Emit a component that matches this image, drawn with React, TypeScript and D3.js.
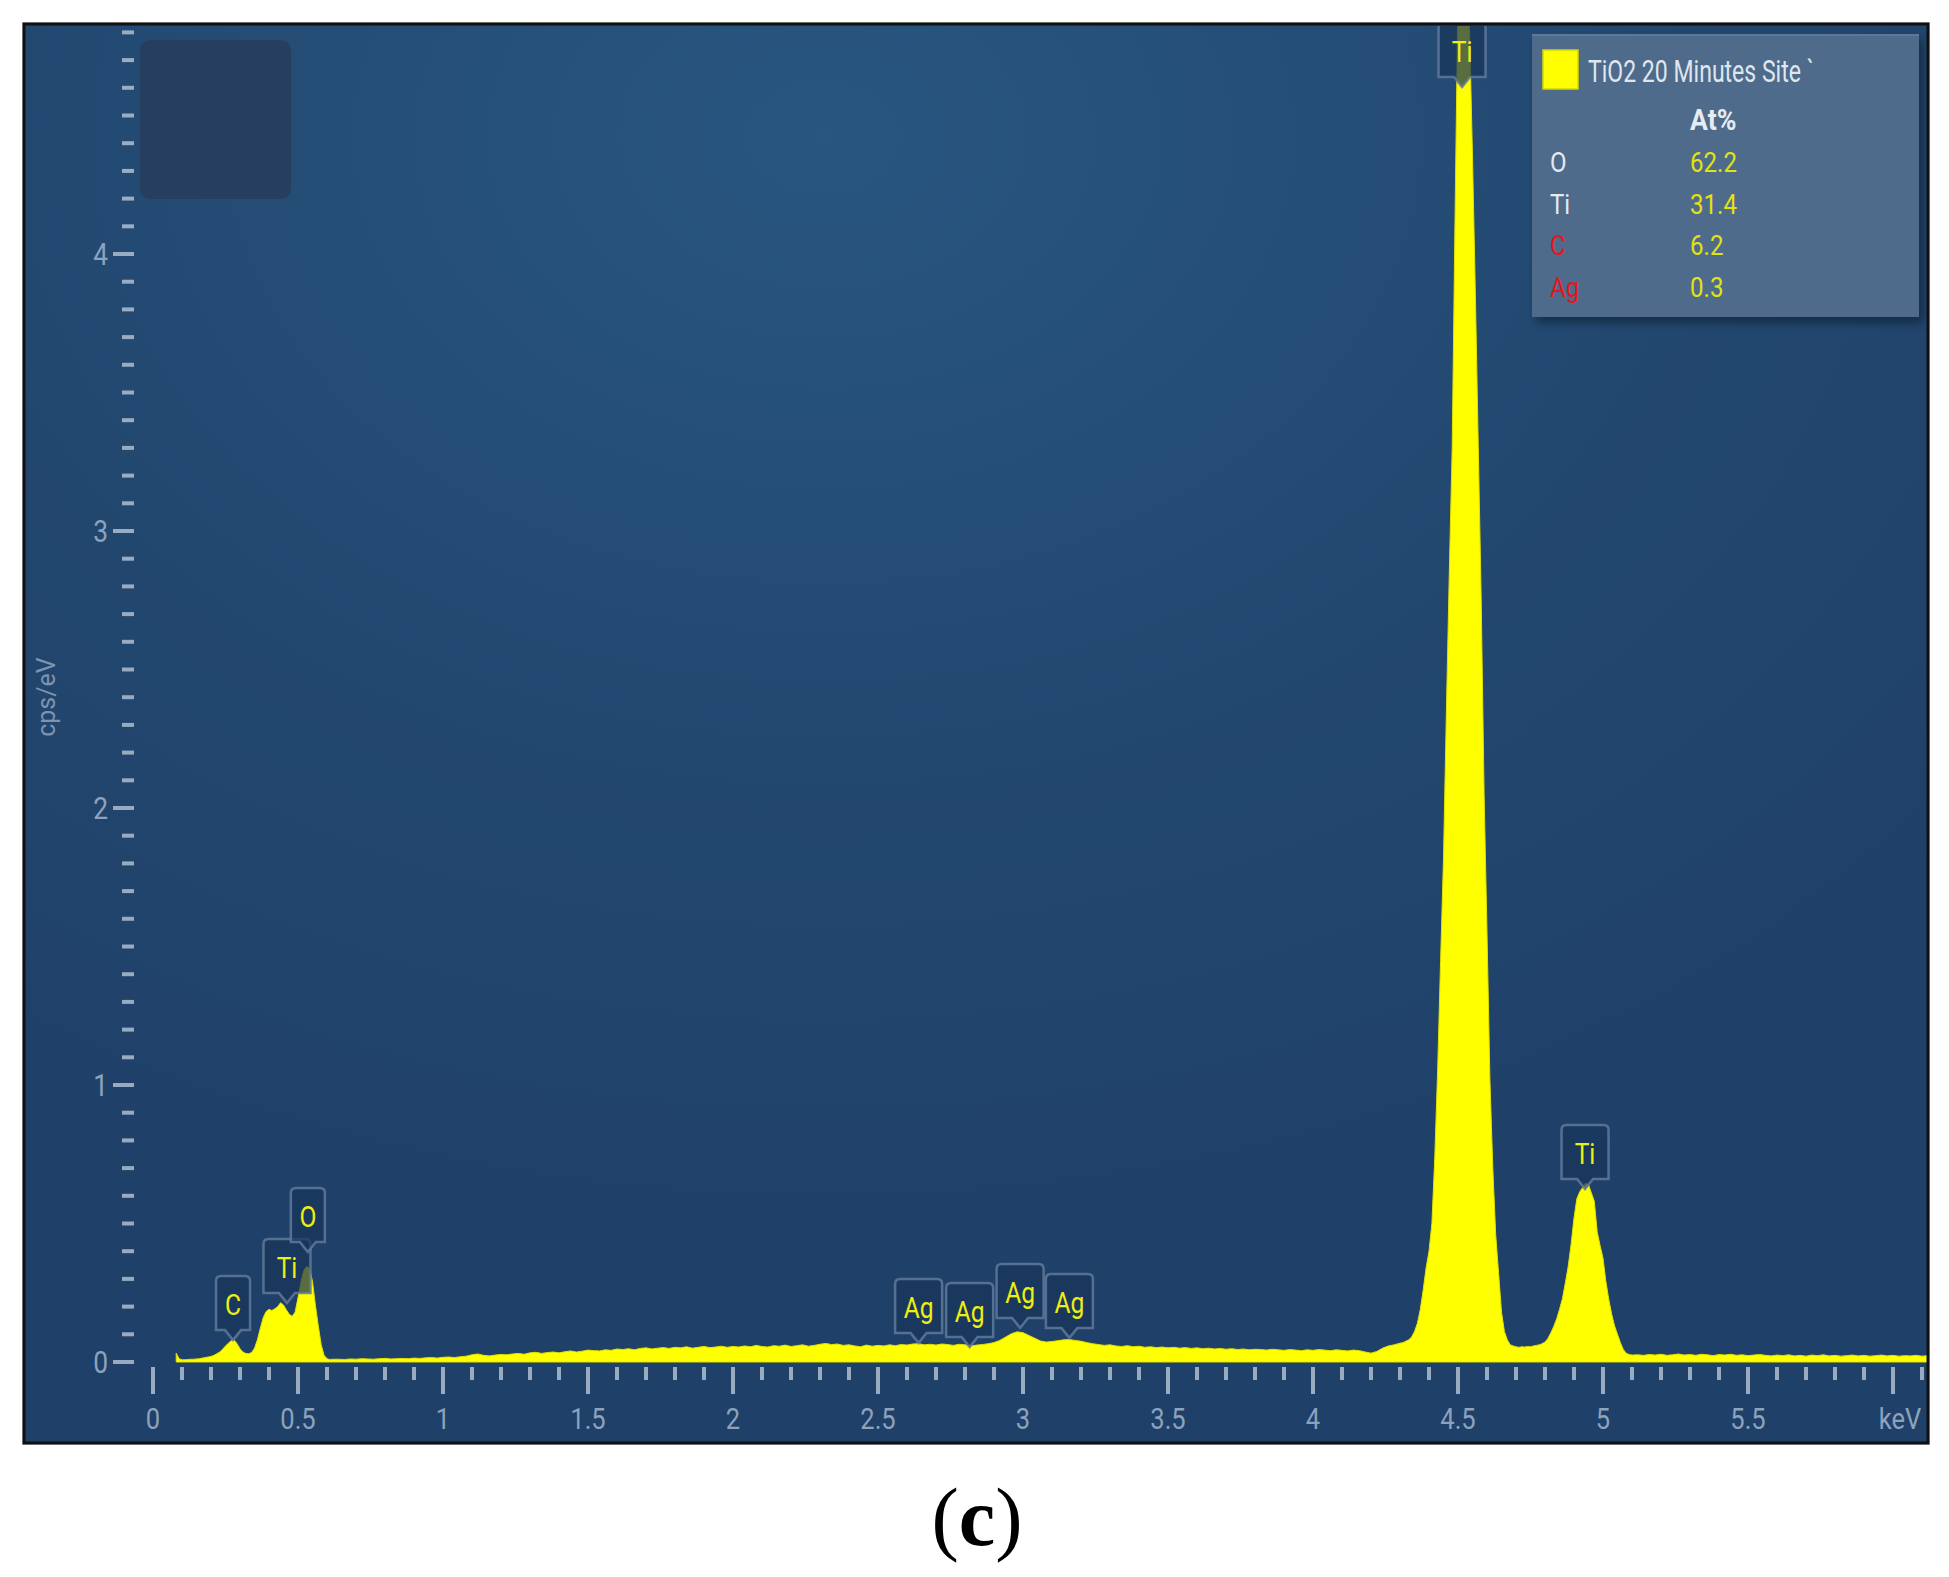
import React from "react";
import * as d3 from "d3";

// ---------- DATA ----------
// EDS spectrum: [energy keV, cps/eV]
const lowEnergy: [number, number][] = [
  [0.08, 0.032], [0.09, 0.012], [0.1, 0.008], [0.11, 0.008], [0.12, 0.009], [0.13, 0.01],
  [0.14, 0.01], [0.15, 0.011], [0.16, 0.012], [0.17, 0.014], [0.18, 0.016], [0.19, 0.018],
  [0.2, 0.02], [0.21, 0.024], [0.22, 0.03], [0.23, 0.036], [0.24, 0.046], [0.25, 0.058],
  [0.26, 0.068], [0.27, 0.077], [0.28, 0.079], [0.29, 0.066], [0.3, 0.048], [0.31, 0.036],
  [0.32, 0.031], [0.33, 0.03], [0.34, 0.034], [0.35, 0.05], [0.36, 0.08], [0.37, 0.122],
  [0.38, 0.16], [0.39, 0.182], [0.4, 0.19], [0.41, 0.186], [0.42, 0.192], [0.43, 0.2],
  [0.44, 0.214], [0.45, 0.206], [0.46, 0.188], [0.47, 0.172], [0.48, 0.165], [0.49, 0.18],
  [0.5, 0.232], [0.51, 0.288], [0.52, 0.33], [0.53, 0.345], [0.54, 0.338], [0.55, 0.29],
  [0.56, 0.205], [0.57, 0.13], [0.58, 0.062], [0.59, 0.024], [0.6, 0.012], [0.61, 0.009],
  [0.62, 0.01],
];

const continuum: [number, number][] = [
  [0.64, 0.01], [0.66, 0.009], [0.68, 0.011], [0.7, 0.01], [0.72, 0.012], [0.74, 0.011],
  [0.76, 0.01], [0.78, 0.012], [0.8, 0.013], [0.82, 0.011], [0.84, 0.012], [0.86, 0.013],
  [0.88, 0.012], [0.9, 0.014], [0.92, 0.013], [0.94, 0.015], [0.96, 0.016], [0.98, 0.014],
  [1.0, 0.017], [1.02, 0.018], [1.04, 0.016], [1.06, 0.019], [1.08, 0.021], [1.1, 0.026],
  [1.12, 0.029], [1.14, 0.024], [1.16, 0.022], [1.18, 0.025], [1.2, 0.027], [1.22, 0.026],
  [1.24, 0.029], [1.26, 0.031], [1.28, 0.028], [1.3, 0.033], [1.32, 0.035], [1.34, 0.031],
  [1.36, 0.034], [1.38, 0.036], [1.4, 0.033], [1.42, 0.037], [1.44, 0.04], [1.46, 0.036],
  [1.48, 0.039], [1.5, 0.043], [1.52, 0.041], [1.54, 0.04], [1.56, 0.044], [1.58, 0.042],
  [1.6, 0.047], [1.62, 0.045], [1.64, 0.048], [1.66, 0.044], [1.68, 0.049], [1.7, 0.051],
  [1.72, 0.047], [1.74, 0.05], [1.76, 0.052], [1.78, 0.049], [1.8, 0.053], [1.82, 0.051],
  [1.84, 0.055], [1.86, 0.05], [1.88, 0.053], [1.9, 0.056], [1.92, 0.052], [1.94, 0.054],
  [1.96, 0.057], [1.98, 0.053], [2.0, 0.056], [2.02, 0.054], [2.04, 0.058], [2.06, 0.055],
  [2.08, 0.06], [2.1, 0.056], [2.12, 0.054], [2.14, 0.059], [2.16, 0.057], [2.18, 0.061],
  [2.2, 0.056], [2.22, 0.059], [2.24, 0.062], [2.26, 0.057], [2.28, 0.06], [2.3, 0.064],
  [2.32, 0.067], [2.34, 0.063], [2.36, 0.065], [2.38, 0.06], [2.4, 0.062], [2.42, 0.058],
  [2.44, 0.055], [2.46, 0.061], [2.48, 0.057], [2.5, 0.06], [2.52, 0.058], [2.54, 0.062],
  [2.56, 0.059], [2.58, 0.063], [2.6, 0.061], [2.62, 0.065], [2.64, 0.066], [2.66, 0.062],
  [2.68, 0.064], [2.7, 0.061], [2.72, 0.065], [2.74, 0.063], [2.76, 0.06], [2.78, 0.064],
  [2.8, 0.062], [2.82, 0.058], [2.84, 0.061], [2.86, 0.063], [2.88, 0.066], [2.9, 0.07],
  [2.92, 0.078], [2.94, 0.09], [2.96, 0.102], [2.98, 0.109], [3.0, 0.106], [3.02, 0.096],
  [3.04, 0.086], [3.06, 0.076], [3.08, 0.072], [3.1, 0.074], [3.12, 0.077], [3.14, 0.08],
  [3.16, 0.081], [3.18, 0.078], [3.2, 0.075], [3.22, 0.07], [3.24, 0.066], [3.26, 0.063],
  [3.28, 0.06], [3.3, 0.062], [3.32, 0.058], [3.34, 0.056], [3.36, 0.059], [3.38, 0.055],
  [3.4, 0.057], [3.42, 0.053], [3.44, 0.055], [3.46, 0.052], [3.48, 0.054], [3.5, 0.051],
  [3.52, 0.053], [3.54, 0.05], [3.56, 0.052], [3.58, 0.049], [3.6, 0.051], [3.62, 0.048],
  [3.64, 0.05], [3.66, 0.047], [3.68, 0.049], [3.7, 0.046], [3.72, 0.048], [3.74, 0.045],
  [3.76, 0.047], [3.78, 0.044], [3.8, 0.046], [3.82, 0.045], [3.84, 0.043], [3.86, 0.046],
  [3.88, 0.044], [3.9, 0.042], [3.92, 0.045], [3.94, 0.043], [3.96, 0.041], [3.98, 0.044],
  [4.0, 0.042], [4.02, 0.045], [4.04, 0.043], [4.06, 0.041], [4.08, 0.044], [4.1, 0.042],
  [4.12, 0.04], [4.14, 0.043], [4.16, 0.041], [4.18, 0.036], [4.2, 0.032], [4.22, 0.038],
  [4.24, 0.05], [4.26, 0.058], [4.28, 0.062], [4.3, 0.068],
];

const tiKPeaks: [number, number][] = [
  [4.31, 0.07], [4.32, 0.075], [4.33, 0.08], [4.34, 0.09], [4.35, 0.11], [4.36, 0.14],
  [4.37, 0.19], [4.38, 0.26], [4.39, 0.34], [4.4, 0.4], [4.41, 0.5], [4.42, 0.74],
  [4.43, 1.06], [4.44, 1.45], [4.45, 1.82], [4.46, 2.35], [4.47, 2.85], [4.48, 3.3],
  [4.49, 4.15], [4.5, 4.95], [4.51, 5.2], [4.52, 5.35], [4.53, 5.1], [4.54, 4.8],
  [4.55, 4.35], [4.56, 3.85], [4.57, 3.3], [4.58, 2.75], [4.59, 2.05], [4.6, 1.55],
  [4.61, 1.02], [4.62, 0.7], [4.63, 0.46], [4.64, 0.32], [4.65, 0.18], [4.66, 0.11],
  [4.67, 0.08], [4.68, 0.062], [4.69, 0.058], [4.7, 0.055], [4.71, 0.053], [4.72, 0.055],
  [4.73, 0.054], [4.74, 0.056], [4.75, 0.055], [4.76, 0.058], [4.77, 0.06], [4.78, 0.062],
  [4.79, 0.066], [4.8, 0.072], [4.81, 0.085], [4.82, 0.105], [4.83, 0.128], [4.84, 0.155],
  [4.85, 0.19], [4.86, 0.228], [4.87, 0.285], [4.88, 0.345], [4.89, 0.425], [4.9, 0.52],
  [4.91, 0.59], [4.92, 0.615], [4.93, 0.63], [4.94, 0.645], [4.95, 0.64], [4.96, 0.61],
  [4.97, 0.58], [4.98, 0.47], [4.99, 0.42], [5.0, 0.375], [5.01, 0.29], [5.02, 0.225],
  [5.03, 0.172], [5.04, 0.13], [5.05, 0.1], [5.06, 0.07], [5.07, 0.045], [5.08, 0.032],
  [5.09, 0.027], [5.1, 0.025],
];

const highTail: [number, number][] = [
  [5.12, 0.026], [5.14, 0.024], [5.16, 0.027], [5.18, 0.025], [5.2, 0.028], [5.22, 0.024],
  [5.24, 0.026], [5.26, 0.029], [5.28, 0.025], [5.3, 0.027], [5.32, 0.024], [5.34, 0.028],
  [5.36, 0.026], [5.38, 0.023], [5.4, 0.027], [5.42, 0.025], [5.44, 0.028], [5.46, 0.024],
  [5.48, 0.026], [5.5, 0.023], [5.52, 0.025], [5.54, 0.027], [5.56, 0.024], [5.58, 0.022],
  [5.6, 0.025], [5.62, 0.023], [5.64, 0.026], [5.66, 0.022], [5.68, 0.024], [5.7, 0.021],
  [5.72, 0.025], [5.74, 0.023], [5.76, 0.026], [5.78, 0.022], [5.8, 0.024], [5.82, 0.021],
  [5.84, 0.023], [5.86, 0.025], [5.88, 0.022], [5.9, 0.024], [5.92, 0.021], [5.94, 0.023],
  [5.96, 0.025], [5.98, 0.022], [6.0, 0.024], [6.02, 0.021], [6.04, 0.023], [6.06, 0.022],
  [6.08, 0.024], [6.1, 0.021], [6.12, 0.023],
];

const xMajorValues = [0, 0.5, 1, 1.5, 2, 2.5, 3, 3.5, 4, 4.5, 5, 5.5, 6];
const xTickLabels = ["0", "0.5", "1", "1.5", "2", "2.5", "3", "3.5", "4", "4.5", "5", "5.5", "keV"];
const yMajorValues = [0, 1, 2, 3, 4];
const yTickLabels = ["0", "1", "2", "3", "4"];
const yAxisTitle = "cps/eV";

const peakElements = ["C", "Ti", "O", "Ag", "Ag", "Ag", "Ag", "Ti", "Ti"];
const peakEnergies = [0.276, 0.462, 0.534, 2.64, 2.816, 2.99, 3.16, 4.514, 4.938];
const peakTipValues = [0.079, 0.213, 0.397, 0.069, 0.054, 0.123, 0.087, 4.603, 0.625];

const legendTitle = "TiO2 20 Minutes Site `";
const legendHeader = "At%";
const quantElements = ["O", "Ti", "C", "Ag"];
const quantAtPercent = ["62.2", "31.4", "6.2", "0.3"];
const quantFlagged = [false, false, true, true];
const caption = "c";

// ---------- LAYOUT ----------
const W = 1949;
const H = 1577;
const frame = { x: 24, y: 24, w: 1904, h: 1419 };
const FONT = "Roboto, 'Open Sans', 'DejaVu Sans', sans-serif";

const x = d3.scaleLinear().domain([0, 6]).range([153, 1893]);
const y = d3.scaleLinear().domain([0, 4]).range([1362, 254]);

function SText(props: {
  x: number; y: number; sx?: number; size: number; fill: string;
  anchor?: string; weight?: string | number; children: React.ReactNode; rotate?: number;
}) {
  const { sx = 1, rotate = 0 } = props;
  return (
    <text
      transform={`translate(${props.x},${props.y}) rotate(${rotate}) scale(${sx},1)`}
      fontFamily={FONT}
      fontSize={props.size}
      fill={props.fill}
      textAnchor={props.anchor || "start"}
      fontWeight={props.weight || "normal"}
    >
      {props.children}
    </text>
  );
}

export default function App() {
  const spectrum = [...lowEnergy, ...continuum, ...tiKPeaks, ...highTail];
  const area = d3
    .area<[number, number]>()
    .x((d) => x(d[0]))
    .y0(y(0))
    .y1((d) => y(d[1]))
    .curve(d3.curveLinear);

  const yTicks = d3.range(0, 49).map((i) => i / 10);
  const xTicks = d3.range(0, 62).map((i) => i / 10);
  const tickColor = "#a7b7cb";
  const labelColor = "#8da2bc";

  const boxPath = (cx: number, tipY: number, w: number, h: number) => {
    const bottom = tipY - 10;
    const top = bottom - h;
    const l = cx - w / 2;
    const r = cx + w / 2;
    const rr = 5;
    return `M${l + rr},${top} L${r - rr},${top} Q${r},${top} ${r},${top + rr} L${r},${bottom} L${cx + 8},${bottom} L${cx},${tipY} L${cx - 8},${bottom} L${l},${bottom} L${l},${top + rr} Q${l},${top} ${l + rr},${top} Z`;
  };

  return (
    <svg
      width={W}
      height={H}
      style={{ position: "absolute", left: 0, top: 0, background: "#ffffff" }}
    >
      <defs>
        <radialGradient id="bg" cx="0.42" cy="0.08" r="0.85">
          <stop offset="0" stopColor="#285680" />
          <stop offset="0.55" stopColor="#22476f" />
          <stop offset="1" stopColor="#1f4068" />
        </radialGradient>
        <clipPath id="plotClip">
          <rect x={frame.x + 1} y={frame.y + 2} width={frame.w - 2} height={frame.h - 2} />
        </clipPath>
        <filter id="shadow" x="-10%" y="-10%" width="120%" height="130%">
          <feGaussianBlur stdDeviation="4" />
        </filter>
      </defs>

      {/* frame */}
      <rect x={frame.x} y={frame.y} width={frame.w} height={frame.h} fill="url(#bg)" />
      <rect x={140} y={40} width={151} height={159} rx={10} fill="#263f60" />

      {/* y ticks */}
      {yTicks.map((v, i) => {
        const major = i % 10 === 0;
        return (
          <line
            key={"yt" + i}
            x1={major ? 113 : 122}
            x2={134}
            y1={y(v)}
            y2={y(v)}
            stroke={tickColor}
            strokeWidth={4}
            opacity={0.9}
          />
        );
      })}
      {yMajorValues.map((v, i) => (
        <SText key={"yl" + i} x={108} y={y(v) + 11} size={31} sx={0.85} fill={labelColor} anchor="end">
          {yTickLabels[i]}
        </SText>
      ))}
      <SText x={55} y={697} size={25} fill="#7d93b0" anchor="middle" rotate={-90}>
        {yAxisTitle}
      </SText>

      {/* x ticks */}
      {xTicks.map((v, i) => {
        const major = i % 5 === 0;
        return (
          <line
            key={"xt" + i}
            x1={x(v)}
            x2={x(v)}
            y1={1367}
            y2={major ? 1394 : 1380}
            stroke={tickColor}
            strokeWidth={4}
            opacity={0.9}
          />
        );
      })}
      {xMajorValues.map((v, i) => (
        <SText
          key={"xl" + i}
          x={xTickLabels[i] === "keV" ? x(v) + 7 : x(v)}
          y={1429}
          size={30}
          sx={0.85}
          fill={labelColor}
          anchor="middle"
        >
          {xTickLabels[i]}
        </SText>
      ))}

      {/* spectrum */}
      <g clipPath="url(#plotClip)">
        <path d={area(spectrum) || ""} fill="#ffff00" stroke="#e2e200" strokeWidth={1} />
        {peakElements.map((el, i) => {
          const cx = x(peakEnergies[i]);
          const tip = y(peakTipValues[i]);
          const w = el.length > 1 ? 47 : 34;
          return (
            <g key={"pl" + i}>
              <path
                d={boxPath(cx, tip, w, 54)}
                fill="#19345a"
                fillOpacity={0.72}
                stroke="#60799a"
                strokeOpacity={0.85}
                strokeWidth={2.5}
              />
              <SText x={cx} y={tip - 64 + 39} size={30} sx={0.82} fill="#eeee10" anchor="middle">
                {el}
              </SText>
            </g>
          );
        })}
      </g>

      {/* legend */}
      <rect x={1536} y={40} width={387} height={283} fill="#000" opacity={0.35} filter="url(#shadow)" />
      <rect x={1532} y={34} width={387} height={283} fill="#4e6b8b" />
      <rect x={1532} y={34} width={387} height={2} fill="#5d7898" />
      <rect x={1543} y={50} width={35} height={39} fill="#ffff00" stroke="#d6d600" strokeWidth={1.5} />
      <SText x={1588} y={82} size={32} sx={0.72} fill="#dfe6ee">
        {legendTitle}
      </SText>
      <SText x={1690} y={130} size={29} sx={0.92} fill="#e6ecf2" weight="bold">
        {legendHeader}
      </SText>
      {quantElements.map((el, i) => (
        <g key={"q" + i}>
          <SText x={1550} y={172 + i * 41.5} size={28} sx={0.86} fill={quantFlagged[i] ? "#e8141e" : "#e4eaf0"}>
            {el}
          </SText>
          <SText x={1690} y={172 + i * 41.5} size={28} sx={0.86} fill="#e2e212">
            {quantAtPercent[i]}
          </SText>
        </g>
      ))}

      {/* frame border */}
      <rect x={frame.x - 1.5} y={frame.y - 1.5} width={frame.w + 3} height={frame.h + 3} fill="none" stroke="#c8c8c8" strokeWidth={1} />
      <rect x={frame.x} y={frame.y} width={frame.w} height={frame.h} fill="none" stroke="#111" strokeWidth={3} />

      {/* caption */}
      <text
        x={977}
        y={1545}
        textAnchor="middle"
        fontFamily="'Liberation Serif', 'Times New Roman', serif"
        fontSize={82}
        fill="#000"
      >
        (<tspan fontWeight="bold">{caption}</tspan>)
      </text>
    </svg>
  );
}
